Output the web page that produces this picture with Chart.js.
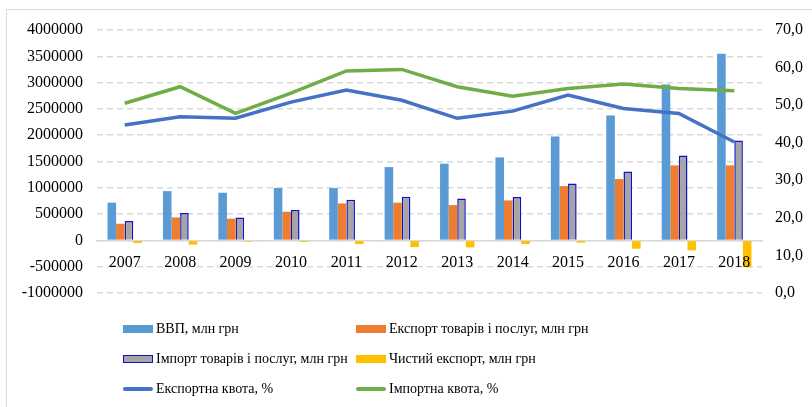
<!DOCTYPE html>
<html>
<head>
<meta charset="utf-8">
<script src="https://cdn.jsdelivr.net/npm/chart.js@4.4.1/dist/chart.umd.min.js"></script>
<style>
    body { margin: 0; background: #ffffff; overflow: hidden; }
    #wrap { position: relative; width: 812px; height: 407px; }
    #frame { position: absolute; left: 6px; top: 9px; width: 830px; height: 430px; border: 1px solid #d9d9d9; }
    #chart { position: absolute; left: 0; top: 0; }
    #legend { position: absolute; left: 123px; top: 318px; display: grid; grid-template-columns: 233px 400px; row-gap: 8px;
              font-family: "Liberation Serif", "Times New Roman", serif; font-size: 14px; color: #000; }
    .item { display: flex; align-items: center; height: 22px; white-space: nowrap; }
    .sw { width: 30px; margin-right: 3px; box-sizing: border-box; }
</style>
</head>
<body>
<div id="wrap">
    <div id="frame"></div>
    <canvas id="chart" width="812" height="407"></canvas>
    <div id="legend"></div>
</div>
<script>
// Data
const years = ['2007', '2008', '2009', '2010', '2011', '2012', '2013', '2014', '2015', '2016', '2017', '2018'];
const gdp = [717000, 937000, 906000, 995000, 995000, 1394000, 1458000, 1578000, 1977000, 2376000, 2966000, 3549000];
const exportsVal = [317000, 437000, 412000, 545000, 703000, 717000, 671000, 760000, 1032000, 1166000, 1426000, 1426000];
const importsVal = [367000, 519000, 437000, 576000, 774000, 831000, 798000, 823000, 1084000, 1312000, 1616000, 1901000];
const netExport = [-50000, -82000, -25000, -31000, -70000, -127000, -133000, -70000, -44000, -158000, -190000, -508000];
const exportQuota = [44.7, 46.9, 46.5, 50.8, 54.0, 51.3, 46.5, 48.4, 52.7, 49.1, 47.8, 40.2];
const importQuota = [50.5, 54.9, 47.8, 53.2, 59.1, 59.5, 54.9, 52.4, 54.4, 55.6, 54.4, 53.8];

const fontFamily = '"Liberation Serif", "Times New Roman", serif';
const gridColor = '#d9d9d9';

const ctx = document.getElementById('chart').getContext('2d');
const chart = new Chart(ctx, {
    data: {
        labels: years,
        datasets: [
            { type: 'bar', label: 'ВВП, млн грн', data: gdp, backgroundColor: '#5b9bd5', yAxisID: 'y', order: 2 },
            { type: 'bar', label: 'Експорт товарів і послуг, млн грн', data: exportsVal, backgroundColor: '#ed7d31', yAxisID: 'y', order: 2 },
            { type: 'bar', label: 'Імпорт товарів і послуг, млн грн', data: importsVal, backgroundColor: '#a5a5a5',
              borderColor: '#1010c8', borderWidth: 1.5, yAxisID: 'y', order: 2 },
            { type: 'bar', label: 'Чистий експорт, млн грн', data: netExport, backgroundColor: '#ffc000', yAxisID: 'y', order: 2 },
            { type: 'line', label: 'Експортна квота, %', data: exportQuota, borderColor: '#4472c4', borderWidth: 3.5,
              pointRadius: 0, tension: 0, yAxisID: 'y1', order: 1 },
            { type: 'line', label: 'Імпортна квота, %', data: importQuota, borderColor: '#70ad47', borderWidth: 3.5,
              pointRadius: 0, tension: 0, yAxisID: 'y1', order: 1 }
        ]
    },
    options: {
        responsive: false,
        animation: false,
        layout: { padding: { top: 30, bottom: 114, left: 0, right: 0 } },
        datasets: {
            bar: { categoryPercentage: 0.62, barPercentage: 1 }
        },
        plugins: {
            legend: { display: false },
            tooltip: { enabled: false }
        },
        scales: {
            x: {
                position: { y: 0 },
                grid: { display: false },
                border: { display: true, color: gridColor, width: 1.5 },
                ticks: { z: 1, color: '#000', font: { family: fontFamily, size: 16 }, padding: 5, maxRotation: 0 }
            },
            y: {
                position: 'left',
                min: -1000000,
                max: 4000000,
                ticks: { stepSize: 500000, color: '#000', font: { family: fontFamily, size: 16 }, padding: 14,
                         callback: (v) => String(v) },
                grid: { color: gridColor, drawTicks: false, lineWidth: 1.5 },
                border: { display: false, dash: [6, 4] },
                afterFit: (scale) => { scale.width = 97; }
            },
            y1: {
                position: 'right',
                min: 0,
                max: 70,
                ticks: { stepSize: 10, color: '#000', font: { family: fontFamily, size: 16 }, padding: 13,
                         callback: (v) => v.toFixed(1).replace('.', ',') },
                grid: { drawOnChartArea: false, drawTicks: false },
                border: { display: false },
                afterFit: (scale) => { scale.width = 50; }
            }
        }
    }
});

// Legend in two columns, built from the chart's datasets
const legendEl = document.getElementById('legend');
chart.data.datasets.forEach((ds) => {
    const item = document.createElement('div');
    item.className = 'item';
    const sw = document.createElement('span');
    sw.className = 'sw';
    if (ds.type === 'line') {
        sw.style.height = '4px';
        sw.style.borderRadius = '2px';
        sw.style.background = ds.borderColor;
    } else {
        sw.style.height = '8px';
        sw.style.background = ds.backgroundColor;
        if (ds.borderWidth) sw.style.border = '1.5px solid ' + ds.borderColor;
    }
    const txt = document.createElement('span');
    txt.textContent = ds.label;
    item.appendChild(sw);
    item.appendChild(txt);
    legendEl.appendChild(item);
});
</script>
</body>
</html>
